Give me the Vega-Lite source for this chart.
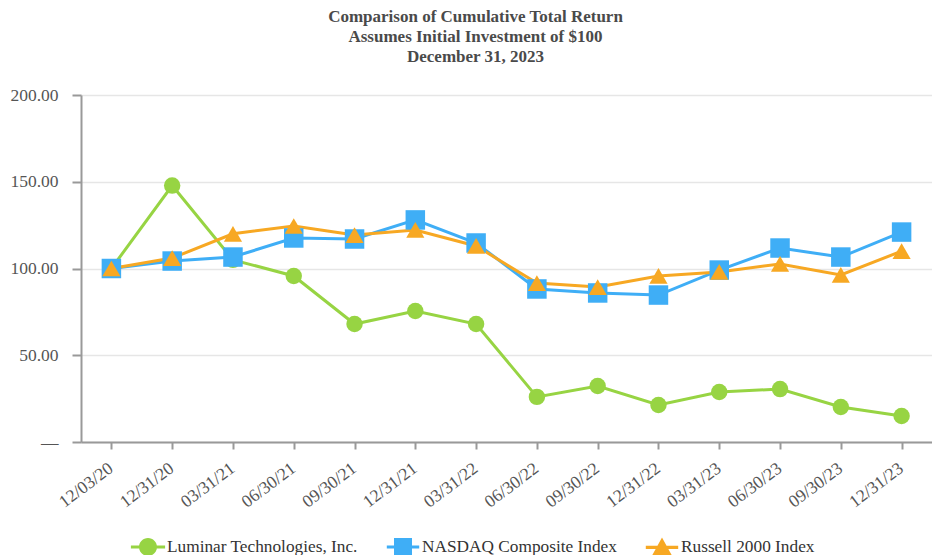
{
  "$schema": "https://vega.github.io/schema/vega-lite/v6.json",
  "width": 851,
  "height": 347,
  "autosize": {"type": "none"},
  "padding": {"left": 81, "top": 95, "right": 0, "bottom": 113},
  "background": "white",
  "title": {
    "text": ["Comparison of Cumulative Total Return", "Assumes Initial Investment of $100", "December 31, 2023"],
    "font": "Liberation Serif",
    "fontSize": 17,
    "fontWeight": "bold",
    "color": "#4a4a4a",
    "lineHeight": 20,
    "anchor": "middle",
    "dx": -31,
    "offset": 20
  },
  "config": {
    "view": {"stroke": null},
    "font": "Liberation Serif"
  },
  "data": {
    "values": [
      {"date": "12/03/20", "series": "Luminar Technologies, Inc.", "value": 100},
      {"date": "12/31/20", "series": "Luminar Technologies, Inc.", "value": 147.8},
      {"date": "03/31/21", "series": "Luminar Technologies, Inc.", "value": 105},
      {"date": "06/30/21", "series": "Luminar Technologies, Inc.", "value": 95.7},
      {"date": "09/30/21", "series": "Luminar Technologies, Inc.", "value": 68},
      {"date": "12/31/21", "series": "Luminar Technologies, Inc.", "value": 75.5},
      {"date": "03/31/22", "series": "Luminar Technologies, Inc.", "value": 68},
      {"date": "06/30/22", "series": "Luminar Technologies, Inc.", "value": 26},
      {"date": "09/30/22", "series": "Luminar Technologies, Inc.", "value": 32.3},
      {"date": "12/31/22", "series": "Luminar Technologies, Inc.", "value": 21.3},
      {"date": "03/31/23", "series": "Luminar Technologies, Inc.", "value": 28.8},
      {"date": "06/30/23", "series": "Luminar Technologies, Inc.", "value": 30.5},
      {"date": "09/30/23", "series": "Luminar Technologies, Inc.", "value": 20.2},
      {"date": "12/31/23", "series": "Luminar Technologies, Inc.", "value": 15},
      {"date": "12/03/20", "series": "NASDAQ Composite Index", "value": 100},
      {"date": "12/31/20", "series": "NASDAQ Composite Index", "value": 104.3},
      {"date": "03/31/21", "series": "NASDAQ Composite Index", "value": 106.6},
      {"date": "06/30/21", "series": "NASDAQ Composite Index", "value": 117.6},
      {"date": "09/30/21", "series": "NASDAQ Composite Index", "value": 117},
      {"date": "12/31/21", "series": "NASDAQ Composite Index", "value": 128},
      {"date": "03/31/22", "series": "NASDAQ Composite Index", "value": 114.7},
      {"date": "06/30/22", "series": "NASDAQ Composite Index", "value": 88.2},
      {"date": "09/30/22", "series": "NASDAQ Composite Index", "value": 85.9},
      {"date": "12/31/22", "series": "NASDAQ Composite Index", "value": 84.7},
      {"date": "03/31/23", "series": "NASDAQ Composite Index", "value": 99.1},
      {"date": "06/30/23", "series": "NASDAQ Composite Index", "value": 111.8},
      {"date": "09/30/23", "series": "NASDAQ Composite Index", "value": 106.6},
      {"date": "12/31/23", "series": "NASDAQ Composite Index", "value": 121},
      {"date": "12/03/20", "series": "Russell 2000 Index", "value": 100},
      {"date": "12/31/20", "series": "Russell 2000 Index", "value": 106},
      {"date": "03/31/21", "series": "Russell 2000 Index", "value": 120},
      {"date": "06/30/21", "series": "Russell 2000 Index", "value": 124.5},
      {"date": "09/30/21", "series": "Russell 2000 Index", "value": 119.3},
      {"date": "12/31/21", "series": "Russell 2000 Index", "value": 122.2},
      {"date": "03/31/22", "series": "Russell 2000 Index", "value": 113},
      {"date": "06/30/22", "series": "Russell 2000 Index", "value": 91.6},
      {"date": "09/30/22", "series": "Russell 2000 Index", "value": 89.3},
      {"date": "12/31/22", "series": "Russell 2000 Index", "value": 95.7},
      {"date": "03/31/23", "series": "Russell 2000 Index", "value": 98},
      {"date": "06/30/23", "series": "Russell 2000 Index", "value": 102.6},
      {"date": "09/30/23", "series": "Russell 2000 Index", "value": 96.3},
      {"date": "12/31/23", "series": "Russell 2000 Index", "value": 110}
    ]
  },
  "encoding": {
    "x": {
      "field": "date",
      "type": "ordinal",
      "sort": null,
      "scale": {"type": "point", "padding": 0.5},
      "axis": {
        "title": null,
        "labelAngle": -37,
        "labelAlign": "right",
        "labelBaseline": "top",
        "labelOffset": -6,
        "labelFont": "Liberation Serif",
        "labelFontSize": 17.5,
        "labelColor": "#555555",
        "labelPadding": 10,
        "tickSize": 7,
        "tickColor": "#999999",
        "tickWidth": 2,
        "domainColor": "#999999",
        "domainWidth": 2,
        "grid": false
      }
    },
    "y": {
      "field": "value",
      "type": "quantitative",
      "scale": {"domain": [0, 200], "nice": false},
      "axis": {
        "title": null,
        "values": [0, 50, 100, 150, 200],
        "labelExpr": "datum.value == 0 ? '—' : format(datum.value, '.2f')",
        "labelFont": "Liberation Serif",
        "labelFontSize": 17.5,
        "labelColor": "#555555",
        "labelPadding": 14,
        "tickSize": 9,
        "tickColor": "#999999",
        "tickWidth": 2,
        "domainColor": "#999999",
        "domainWidth": 2,
        "grid": true,
        "gridColor": "#e6e6e6",
        "gridWidth": 1.5
      }
    },
    "color": {
      "field": "series",
      "type": "nominal",
      "scale": {
        "domain": ["Luminar Technologies, Inc.", "NASDAQ Composite Index", "Russell 2000 Index"],
        "range": ["#97d443", "#3faef6", "#f7a823"]
      },
      "legend": {
        "title": null,
        "orient": "none",
        "direction": "horizontal",
        "legendX": 58,
        "legendY": 443,
        "labelFont": "Liberation Serif",
        "labelFontSize": 17.3,
        "labelColor": "#333333",
        "labelLimit": 0,
        "labelOffset": 10,
        "columnPadding": 28,
        "symbolSize": 324,
        "symbolStrokeWidth": 0,
        "symbolOpacity": 1,
        "encode": {
          "symbols": {
            "update": {
              "fill": {"scale": "color", "field": "value"},
              "strokeWidth": {"value": 0},
              "size": {"value": 324},
              "opacity": {"value": 1},
              "shape": {"signal": "datum.value == 'Luminar Technologies, Inc.' ? 'M-1.9,-0.17H1.9V0.17H-1.9Z M0,-1A1,1 0 1,1 0,1A1,1 0 1,1 0,-1Z' : datum.value == 'NASDAQ Composite Index' ? 'M-1.8,-0.17H1.8V0.17H-1.8Z M-1,-1H1V1H-1Z' : 'M-1.8,-0.17H1.8V0.17H-1.8Z M0,-1.1L1.1,0.9H-1.1Z'"}
            }
          }
        }
      }
    }
  },
  "layer": [
    {
      "mark": {"type": "line", "strokeWidth": 3}
    },
    {
      "transform": [{"filter": "datum.series == 'Luminar Technologies, Inc.'"}],
      "mark": {"type": "point", "filled": true, "opacity": 1, "shape": "circle", "size": 270}
    },
    {
      "transform": [{"filter": "datum.series == 'NASDAQ Composite Index'"}],
      "mark": {"type": "point", "filled": true, "opacity": 1, "shape": "square", "size": 380}
    },
    {
      "transform": [{"filter": "datum.series == 'Russell 2000 Index'"}],
      "mark": {"type": "point", "filled": true, "opacity": 1, "shape": "triangle-up", "size": 330}
    }
  ]
}
